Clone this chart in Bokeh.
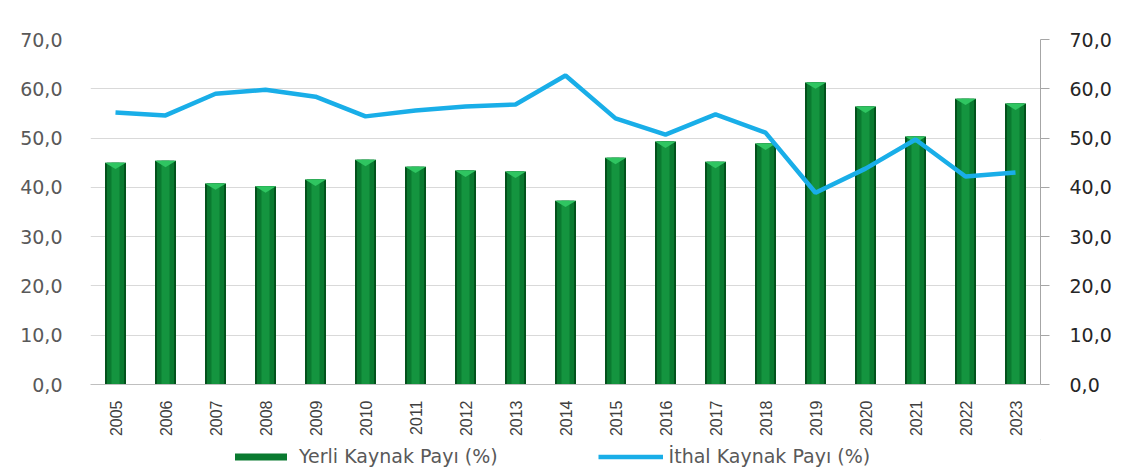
from bokeh.plotting import figure
from bokeh.models import FactorRange, Range1d, LinearAxis, Legend, LegendItem, FixedTicker, CustomJSTickFormatter
from bokeh.layouts import column
from bokeh.embed import file_html
from bokeh.resources import INLINE
import math

years = [str(y) for y in range(2005, 2024)]
yerli = [45.0, 45.4, 40.8, 40.2, 41.6, 45.6, 44.2, 43.4, 43.2, 37.3, 46.0, 49.3, 45.2, 48.9, 61.3, 56.4, 50.3, 58.0, 57.0]
ithal = [55.2, 54.6, 59.0, 59.8, 58.4, 54.4, 55.6, 56.4, 56.8, 62.7, 54.0, 50.7, 54.8, 51.1, 38.9, 43.8, 49.7, 42.2, 43.0]
yticks = [0, 10, 20, 30, 40, 50, 60, 70]
label_yerli = "Yerli Kaynak Payı (%)"
label_ithal = "İthal Kaynak Payı (%)"

BAR_DARK = "#03521c"
BAR_MID = "#0a7a30"
BAR_LIGHT = "#14943f"
CAP = "#2fc561"
LINE = "#19aee8"

p = figure(width=1130, height=439, x_range=FactorRange(*years, range_padding=0),
           y_range=Range1d(0, 70), output_backend="svg", toolbar_location=None,
           min_border_left=90, min_border_right=90, min_border_top=39, min_border_bottom=55)
p.outline_line_color = None
p.background_fill_color = "white"

# bars (cylinder-like shading)
p.vbar(x=years, top=yerli, width=0.42, fill_color=BAR_DARK, line_color=None)
p.vbar(x=years, top=yerli, width=0.34, fill_color=BAR_MID, line_color=None)
p.vbar(x=years, top=yerli, width=0.16, fill_color=BAR_LIGHT, line_color=None)
# top caps
xs = [[(y, -0.21), (y, 0.21), (y, 0.0)] for y in years]
ys = [[v, v, v - 1.3] for v in yerli]
p.patches(xs=xs, ys=ys, fill_color=CAP, line_color=None)

p.line(x=years, y=ithal, line_color=LINE, line_width=4.5)

fmt = CustomJSTickFormatter(code="return tick.toFixed(1).replace('.', ',');")

# left axis
yl = p.yaxis[0]
yl.ticker = FixedTicker(ticks=yticks)
yl.formatter = fmt
yl.axis_line_color = None
yl.major_tick_line_color = None
yl.minor_tick_line_color = None
yl.major_label_standoff = 22
yl.major_label_text_font = "DejaVu Sans"
yl.major_label_text_font_size = "19px"
yl.major_label_text_color = "#595959"

# right axis
p.extra_y_ranges = {"r": Range1d(0, 70)}
yr = LinearAxis(y_range_name="r", ticker=FixedTicker(ticks=yticks), formatter=fmt)
yr.axis_line_color = "#a6a6a6"
yr.major_tick_line_color = "#a6a6a6"
yr.major_tick_out = 9
yr.major_tick_in = 0
yr.minor_tick_line_color = None
yr.major_label_standoff = 20
yr.major_label_text_font = "DejaVu Sans"
yr.major_label_text_font_size = "19px"
yr.major_label_text_color = "#262626"
p.add_layout(yr, "right")

# x axis
xa = p.xaxis[0]
xa.axis_line_color = "#bfbfbf"
xa.major_tick_line_color = None
xa.minor_tick_line_color = None
xa.major_label_orientation = math.pi / 2
xa.major_label_standoff = 10
xa.major_label_text_font = "Liberation Sans"
xa.major_label_text_font_size = "16px"
xa.major_label_text_color = "#404040"

p.xgrid.grid_line_color = None
p.ygrid.ticker = FixedTicker(ticks=yticks[1:])
p.ygrid.grid_line_color = "#d9d9d9"

# legend strip below the chart (its renderers sit outside the strip's visible range)
p2 = figure(width=1130, height=33, x_range=Range1d(0, 1), y_range=Range1d(-2, -1),
            output_backend="svg", toolbar_location=None,
            x_axis_location=None, y_axis_location=None,
            min_border_left=90, min_border_right=90, min_border_top=0, min_border_bottom=0)
p2.outline_line_color = None
p2.xgrid.grid_line_color = None
p2.ygrid.grid_line_color = None
r_bar = p2.vbar(x=[5], top=[yerli[0]], width=0.4, fill_color=BAR_MID, line_color=None)
r_line = p2.line(x=[5, 6], y=ithal[:2], line_color=LINE, line_width=4.5)
legend = Legend(items=[LegendItem(label=label_yerli, renderers=[r_bar]),
                       LegendItem(label=label_ithal, renderers=[r_line])],
                orientation="horizontal", location=(138, 5),
                glyph_width=65, glyph_height=9, label_standoff=6, spacing=100,
                label_text_font="DejaVu Sans", label_text_font_size="19px",
                label_text_color="#595959", background_fill_alpha=0,
                border_line_color=None, padding=0, margin=0)
p2.add_layout(legend, "center")

layout = column(p, p2, spacing=0)
open("out.html", "w").write(file_html(layout, INLINE))
